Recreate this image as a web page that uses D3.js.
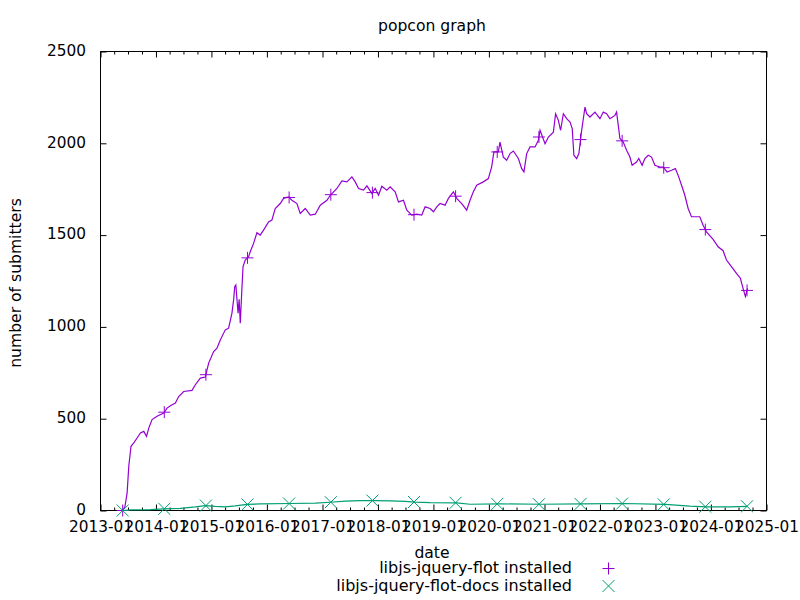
<!DOCTYPE html>
<html>
<head>
<meta charset="utf-8">
<script src="https://cdn.jsdelivr.net/npm/d3@7"></script>
<style>
  html, body { margin: 0; padding: 0; background: #fff; }
  svg text { font-family: "DejaVu Sans", sans-serif; font-size: 15px; fill: #000; }
</style>
</head>
<body>
<svg id="chart" width="800" height="600"></svg>
<script>
// ---- data (decimal years) ----
const flotDates = [
  2013.40, 2013.44, 2013.48, 2013.51, 2013.55, 2013.60, 2013.66, 2013.72, 2013.78, 2013.83,
  2013.87, 2013.93, 2014.02, 2014.14, 2014.20, 2014.26, 2014.35, 2014.41, 2014.50, 2014.65,
  2014.71, 2014.80, 2014.89, 2014.95, 2015.04, 2015.10, 2015.16, 2015.25, 2015.31, 2015.37,
  2015.40, 2015.42, 2015.44, 2015.48, 2015.50, 2015.52, 2015.55, 2015.57, 2015.61, 2015.67,
  2015.70, 2015.76, 2015.82, 2015.88, 2015.94, 2016.03, 2016.09, 2016.15, 2016.24, 2016.30,
  2016.39, 2016.45, 2016.54, 2016.60, 2016.69, 2016.78, 2016.87, 2016.96, 2017.08, 2017.14,
  2017.26, 2017.35, 2017.44, 2017.53, 2017.59, 2017.65, 2017.74, 2017.80, 2017.89, 2017.95,
  2018.01, 2018.07, 2018.16, 2018.22, 2018.31, 2018.37, 2018.46, 2018.52, 2018.61, 2018.70,
  2018.79, 2018.85, 2018.94, 2019.00, 2019.06, 2019.12, 2019.21, 2019.27, 2019.36, 2019.42,
  2019.51, 2019.60, 2019.66, 2019.72, 2019.78, 2019.90, 2019.99, 2020.05, 2020.09, 2020.17,
  2020.20, 2020.26, 2020.32, 2020.38, 2020.44, 2020.53, 2020.59, 2020.63, 2020.68, 2020.74,
  2020.83, 2020.89, 2020.92, 2021.01, 2021.07, 2021.16, 2021.20, 2021.25, 2021.29, 2021.34,
  2021.40, 2021.46, 2021.50, 2021.53, 2021.58, 2021.62, 2021.67, 2021.73, 2021.76, 2021.82,
  2021.91, 2022.00, 2022.06, 2022.12, 2022.18, 2022.27, 2022.30, 2022.33, 2022.36, 2022.42,
  2022.48, 2022.54, 2022.58, 2022.66, 2022.70, 2022.76, 2022.81, 2022.87, 2022.93, 2022.99,
  2023.08, 2023.14, 2023.21, 2023.29, 2023.36, 2023.42, 2023.48, 2023.53, 2023.59, 2023.65,
  2023.74, 2023.80, 2023.86, 2023.92, 2024.04, 2024.13, 2024.22, 2024.28, 2024.37, 2024.46,
  2024.53, 2024.57, 2024.62, 2024.66
];
const flotValues = [
  0, 20, 96, 241, 350, 368, 395, 422, 431, 404,
  449, 495, 513, 531, 558, 571, 585, 621, 648, 654,
  685, 721, 727, 803, 866, 884, 929, 984, 993, 1075,
  1147, 1219, 1228, 1075, 1150, 1020, 1210, 1328, 1364, 1382,
  1409, 1455, 1513, 1500, 1527, 1572, 1582, 1645, 1672, 1700,
  1708, 1690, 1672, 1618, 1645, 1609, 1614, 1663, 1690, 1717,
  1754, 1795, 1790, 1817, 1790, 1754, 1745, 1768, 1727, 1754,
  1717, 1766, 1745, 1763, 1736, 1681, 1690, 1636, 1609, 1614,
  1609, 1654, 1645, 1627, 1654, 1672, 1663, 1700, 1736, 1700,
  1672, 1636, 1690, 1736, 1772, 1790, 1808, 1871, 1953, 1953,
  2007, 1925, 1908, 1944, 1958, 1917, 1862, 1844, 1944, 1980,
  1980, 2016, 2071, 1998, 2034, 2061, 2161, 2125, 2071, 2161,
  2134, 2116, 2080, 1935, 1917, 1944, 2071, 2197, 2161, 2143,
  2170, 2134, 2170, 2161, 2134, 2152, 2170, 2098, 2026, 2007,
  1962, 1925, 1880, 1898, 1917, 1880, 1917, 1935, 1925, 1880,
  1871, 1871, 1844, 1853, 1862, 1817, 1763, 1717, 1645, 1600,
  1600, 1600, 1554, 1518, 1477, 1436, 1415, 1364, 1328, 1292,
  1265, 1219, 1165, 1210
];
const docsDates = [
  2013.41, 2013.54, 2013.90, 2014.13, 2014.44, 2014.71, 2014.89, 2015.07, 2015.25, 2015.43,
  2015.64, 2015.88, 2016.42, 2016.87, 2017.14, 2017.41, 2017.68, 2017.95, 2018.22, 2018.49,
  2018.67, 2018.94, 2019.42, 2019.66, 2020.20, 2020.92, 2021.67, 2022.43, 2023.18, 2023.62,
  2023.92, 2024.34, 2024.66
];
const docsValues = [
  0, 3, 5, 9, 12, 20, 27, 22, 20, 25,
  33, 36, 38, 40, 45, 51, 54, 54, 52, 50,
  46, 43, 42, 34, 36, 34, 36, 38, 33, 24,
  20, 20, 23
];
const yTickValues = [0, 500, 1000, 1500, 2000, 2500];
const xTickYears = [2013, 2014, 2015, 2016, 2017, 2018, 2019, 2020, 2021, 2022, 2023, 2024, 2025];
const seriesNames = ["libjs-jquery-flot installed", "libjs-jquery-flot-docs installed"];
const seriesColors = ["#9400d3", "#009e73"];
const titleText = "popcon graph";
const xLabel = "date";
const yLabel = "number of submitters";

// ---- helpers ----
function yearToDate(y) {
  const yr = Math.floor(y);
  const s = Date.UTC(yr, 0, 1), e = Date.UTC(yr + 1, 0, 1);
  return new Date(s + (y - yr) * (e - s));
}

const L = 100.5, R = 766.5, T = 51.5, B = 510.5;
const svg = d3.select("#chart");

const x = d3.scaleUtc()
  .domain([new Date(Date.UTC(2013, 0, 1)), new Date(Date.UTC(2025, 0, 1))])
  .range([L, R]);
const y = d3.scaleLinear().domain([0, 2500]).range([B, T]);

const majorTicks = xTickYears.map(yr => new Date(Date.UTC(yr, 0, 1)));
const minorTicks = d3.utcMonth.every(3).range(x.domain()[0], x.domain()[1])
  .filter(d => d.getUTCMonth() !== 0);
const fmt = d3.utcFormat("%Y-%m");

// frame
svg.append("rect").attr("x", L).attr("y", T).attr("width", R - L).attr("height", B - T)
  .attr("fill", "none").attr("stroke", "#000").attr("stroke-width", 1);

function styleAxis(g) {
  g.select(".domain").remove();
  g.selectAll("line").attr("stroke", "#000").attr("stroke-width", 1);
}

// bottom axis (major with labels)
const gB = svg.append("g").attr("transform", `translate(0,${B})`)
  .call(d3.axisBottom(x).tickValues(majorTicks).tickFormat(fmt).tickSize(-6).tickSizeOuter(0));
styleAxis(gB);
gB.selectAll("text").attr("y", 21.5).attr("dy", 0).attr("fill", "#000")
  .style("font-family", "DejaVu Sans").style("font-size", "15.3px");
// bottom minor
const gBm = svg.append("g").attr("transform", `translate(0,${B})`)
  .call(d3.axisBottom(x).tickValues(minorTicks).tickFormat("").tickSize(-3).tickSizeOuter(0));
styleAxis(gBm);
// top axis
const gT = svg.append("g").attr("transform", `translate(0,${T})`)
  .call(d3.axisTop(x).tickValues(majorTicks).tickFormat("").tickSize(-6).tickSizeOuter(0));
styleAxis(gT);
const gTm = svg.append("g").attr("transform", `translate(0,${T})`)
  .call(d3.axisTop(x).tickValues(minorTicks).tickFormat("").tickSize(-3).tickSizeOuter(0));
styleAxis(gTm);

// left axis
const gL = svg.append("g").attr("transform", `translate(${L},0)`)
  .call(d3.axisLeft(y).tickValues(yTickValues).tickFormat(d3.format("d")).tickSize(-6).tickSizeOuter(0));
styleAxis(gL);
gL.selectAll("text").attr("x", -14.5).attr("dy", "0.25em").attr("fill", "#000")
  .style("font-family", "DejaVu Sans").style("font-size", "15.3px");
// right axis
const gR = svg.append("g").attr("transform", `translate(${R},0)`)
  .call(d3.axisRight(y).tickValues(yTickValues).tickFormat("").tickSize(-6).tickSizeOuter(0));
styleAxis(gR);

// lines
const flot = flotDates.map((d, i) => ({ date: yearToDate(d), value: flotValues[i] }));
const docs = docsDates.map((d, i) => ({ date: yearToDate(d), value: docsValues[i] }));
const series = [flot, docs];

const line = d3.line().x(d => x(d.date)).y(d => y(d.value)).curve(d3.curveLinear);

const bis = d3.bisector(d => d.date).left;
function valueAt(data, date) {
  const i = bis(data, date);
  if (i <= 0) return data[0].value;
  if (i >= data.length) return data[data.length - 1].value;
  const a = data[i - 1], b = data[i];
  const t = (date - a.date) / (b.date - a.date);
  return a.value + t * (b.value - a.value);
}

// marker positions: every 0.75 year from start of series (gnuplot point interval)
const markerYears = d3.range(0, 16).map(k => 2013.40 + k * 0.75);

function drawPlus(g, cx, cy, s, color) {
  g.append("path").attr("d", `M${cx - s},${cy}H${cx + s}M${cx},${cy - s}V${cy + s}`)
    .attr("stroke", color).attr("stroke-width", 1).attr("fill", "none");
}
function drawCross(g, cx, cy, s, color) {
  g.append("path").attr("d", `M${cx - s},${cy - s}L${cx + s},${cy + s}M${cx - s},${cy + s}L${cx + s},${cy - s}`)
    .attr("stroke", color).attr("stroke-width", 1).attr("fill", "none");
}

series.forEach((data, si) => {
  const g = svg.append("g");
  g.append("path").datum(data).attr("d", line)
    .attr("fill", "none").attr("stroke", seriesColors[si]).attr("stroke-width", 1.2)
    .attr("stroke-linejoin", "miter");
  markerYears.forEach(my => {
    const dt = yearToDate(my);
    const cx = x(dt), cy = y(valueAt(data, dt));
    if (si === 0) drawPlus(g, cx, cy, 6, seriesColors[si]);
    else drawCross(g, cx, cy, 6, seriesColors[si]);
  });
});

// title and axis labels
svg.append("text").attr("x", 432).attr("y", 31).attr("text-anchor", "middle")
  .style("font-size", "15.6px").text(titleText);
svg.append("text").attr("x", 432).attr("y", 558).attr("text-anchor", "middle")
  .style("font-size", "15.6px").text(xLabel);
svg.append("text").attr("transform", "translate(21,283) rotate(-90)")
  .attr("text-anchor", "middle").style("font-size", "15.6px").text(yLabel);

// legend
const legY = [573, 591];
seriesNames.forEach((name, i) => {
  svg.append("text").attr("x", 572).attr("y", legY[i]).attr("text-anchor", "end")
    .style("font-size", "16px").text(name);
  const g = svg.append("g");
  if (i === 0) drawPlus(g, 608.5, legY[i] - 4.5, 6, seriesColors[i]);
  else drawCross(g, 608.5, legY[i] - 5, 6, seriesColors[i]);
});
</script>
</body>
</html>
